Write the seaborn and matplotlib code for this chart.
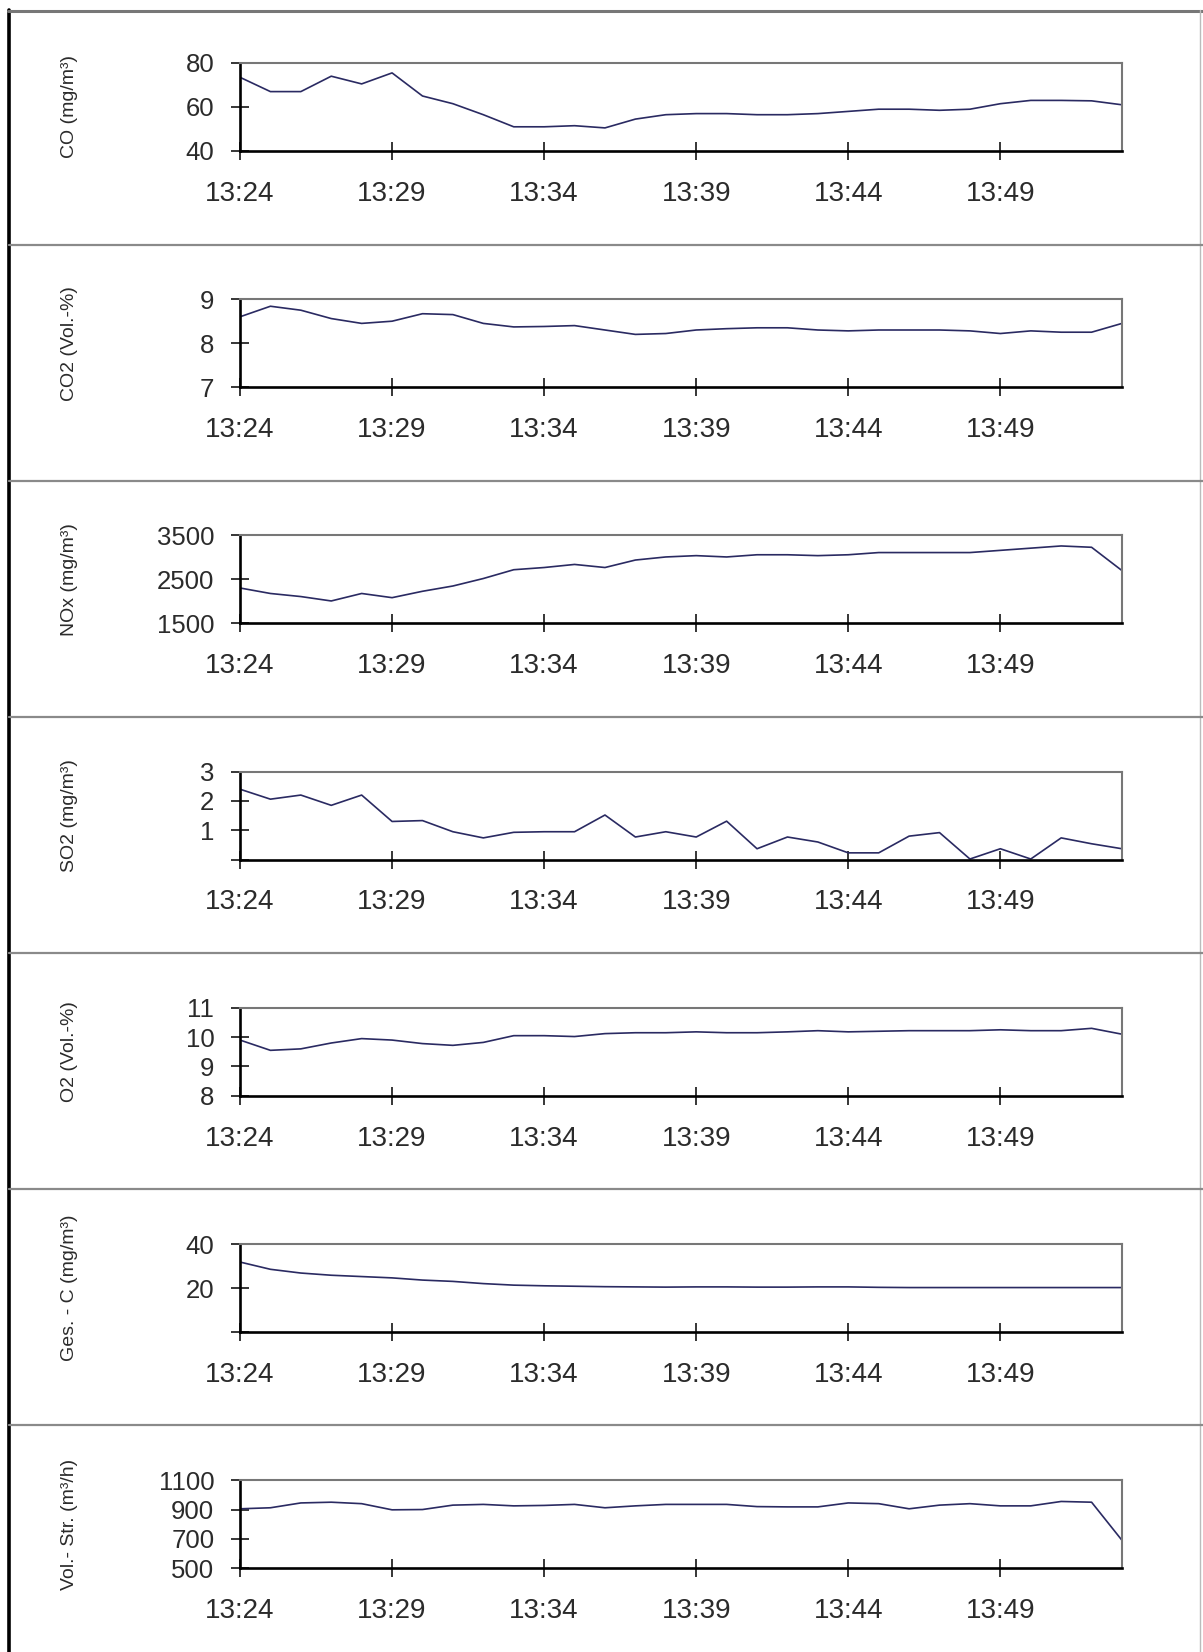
import numpy as np
import pandas as pd
import matplotlib
matplotlib.use("Agg")
import matplotlib.pyplot as plt
from matplotlib.lines import Line2D
import seaborn as sns

# --- Bildgröße in Pixel ---
W, H = 1203, 1652

# --- Zeitachse: eine Messung pro Minute, 13:24 bis 13:53 ---
minuten = np.arange(30)
zeit_ticks = [0, 5, 10, 15, 20, 25]
zeit_labels = ["13:24", "13:29", "13:34", "13:39", "13:44", "13:49"]

co = [73.5, 67, 67, 74, 70.5, 75.5, 65, 61.5, 56.5, 51, 51, 51.5, 50.5, 54.5, 56.5,
      57, 57, 56.5, 56.5, 57, 58, 59, 59, 58.5, 59, 61.5, 63, 63, 62.8, 61]
co2 = [8.6, 8.84, 8.75, 8.56, 8.45, 8.5, 8.67, 8.65, 8.45, 8.37, 8.38, 8.4, 8.3, 8.2, 8.22,
       8.3, 8.33, 8.35, 8.35, 8.3, 8.28, 8.3, 8.3, 8.3, 8.28, 8.22, 8.28, 8.25, 8.25, 8.45]
nox = [2305, 2180, 2110, 2010, 2180, 2085, 2230, 2350, 2520, 2720, 2770, 2840, 2770, 2940, 3010,
       3040, 3010, 3060, 3060, 3040, 3060, 3110, 3110, 3110, 3110, 3160, 3210, 3260, 3230, 2700]
so2 = [2.4, 2.06, 2.2, 1.85, 2.2, 1.3, 1.33, 0.95, 0.74, 0.93, 0.95, 0.95, 1.52, 0.77, 0.95,
       0.77, 1.31, 0.37, 0.77, 0.6, 0.23, 0.23, 0.8, 0.92, 0.02, 0.37, 0.02, 0.74, 0.54, 0.37]
o2 = [9.9, 9.55, 9.6, 9.8, 9.95, 9.9, 9.78, 9.72, 9.82, 10.05, 10.05, 10.02, 10.12, 10.15, 10.15,
      10.18, 10.15, 10.15, 10.18, 10.22, 10.18, 10.2, 10.22, 10.22, 10.22, 10.25, 10.22, 10.22, 10.3, 10.1]
ges_c = [31.8, 28.5, 26.8, 25.8, 25.2, 24.6, 23.6, 23, 22, 21.3, 21, 20.8, 20.6, 20.5, 20.4,
         20.5, 20.5, 20.4, 20.4, 20.5, 20.5, 20.3, 20.2, 20.2, 20.2, 20.2, 20.2, 20.2, 20.2, 20.2]
vol_str = [905, 912, 945, 950, 940, 898, 900, 930, 935, 925, 928, 935, 912, 925, 935,
           935, 935, 920, 918, 918, 945, 940, 905, 930, 940, 925, 925, 955, 950, 690]

# --- Achsenbeschriftungen ---
labels = ["CO (mg/m³)", "CO2 (Vol.-%)", "NOx (mg/m³)", "SO2 (mg/m³)",
          "O2 (Vol.-%)", "Ges. - C (mg/m³)", "Vol.- Str. (m³/h)"]
werte = [co, co2, nox, so2, o2, ges_c, vol_str]
y_limits = [(40, 80), (7, 9), (1500, 3500), (0, 3), (8, 11), (0, 40), (500, 1100)]
y_ticks = [[40, 60, 80], [7, 8, 9], [1500, 2500, 3500], [0, 1, 2, 3],
           [8, 9, 10, 11], [0, 20, 40], [500, 700, 900, 1100]]
y_ticklabels = [["40", "60", "80"], ["7", "8", "9"], ["1500", "2500", "3500"],
                ["", "1", "2", "3"], ["8", "9", "10", "11"], ["", "20", "40"],
                ["500", "700", "900", "1100"]]

LINE = "#2a2a62"
TXT = "#2b2b2b"

sns.set_style("white")
plt.rcParams['font.family'] = ['Liberation Sans', 'DejaVu Sans']

fig = plt.figure(figsize=(W / 100, H / 100), dpi=100)


def fx(px):
    return px / W


def fy(py):
    return 1 - py / H


# --- Rahmen und Trennlinien zwischen den Feldern ---
fig.add_artist(Line2D([fx(9), fx(9)], [fy(10), fy(H)], color="black", lw=2.6))
fig.add_artist(Line2D([fx(8), fx(W)], [fy(11), fy(11)], color="#777777", lw=2.2))
fig.add_artist(Line2D([fx(1200), fx(1200)], [fy(10), fy(H)], color="#bbbbbb", lw=1.0))
for sep in [245, 481, 717, 953, 1189, 1425]:
    fig.add_artist(Line2D([fx(9), fx(W)], [fy(sep), fy(sep)], color="#8a8a8a", lw=1.6))

ax_left, ax_w, ax_h = 240, 882, 88

for i in range(7):
    top = 63 + 236.2 * i
    ax = fig.add_axes([fx(ax_left), fy(top + ax_h), ax_w / W, ax_h / H])
    df = pd.DataFrame({"zeit": minuten, "wert": werte[i]})
    sns.lineplot(data=df, x="zeit", y="wert", ax=ax, color=LINE, lw=1.2)

    ax.set_xlim(0, 29)
    ax.set_ylim(*y_limits[i])
    ax.set_xticks(zeit_ticks, zeit_labels)
    ax.set_yticks(y_ticks[i], y_ticklabels[i])

    for s in ["left", "bottom"]:
        ax.spines[s].set_color("black")
        ax.spines[s].set_linewidth(1.9)
    for s in ["top", "right"]:
        ax.spines[s].set_color("#777777")
        ax.spines[s].set_linewidth(1.5)

    ax.tick_params(bottom=True, left=True, direction="inout", length=13, width=1.1,
                   color="black", labelcolor=TXT)
    ax.tick_params(axis="x", labelsize=20, pad=15)
    ax.tick_params(axis="y", labelsize=18.5, pad=12)

    ax.set_xlabel("")
    ax.set_ylabel(labels[i], fontsize=14, color=TXT, va="center")
    ax.yaxis.set_label_coords((69 - ax_left) / ax_w, 0.5)

fig.savefig("out.png", dpi=100)
